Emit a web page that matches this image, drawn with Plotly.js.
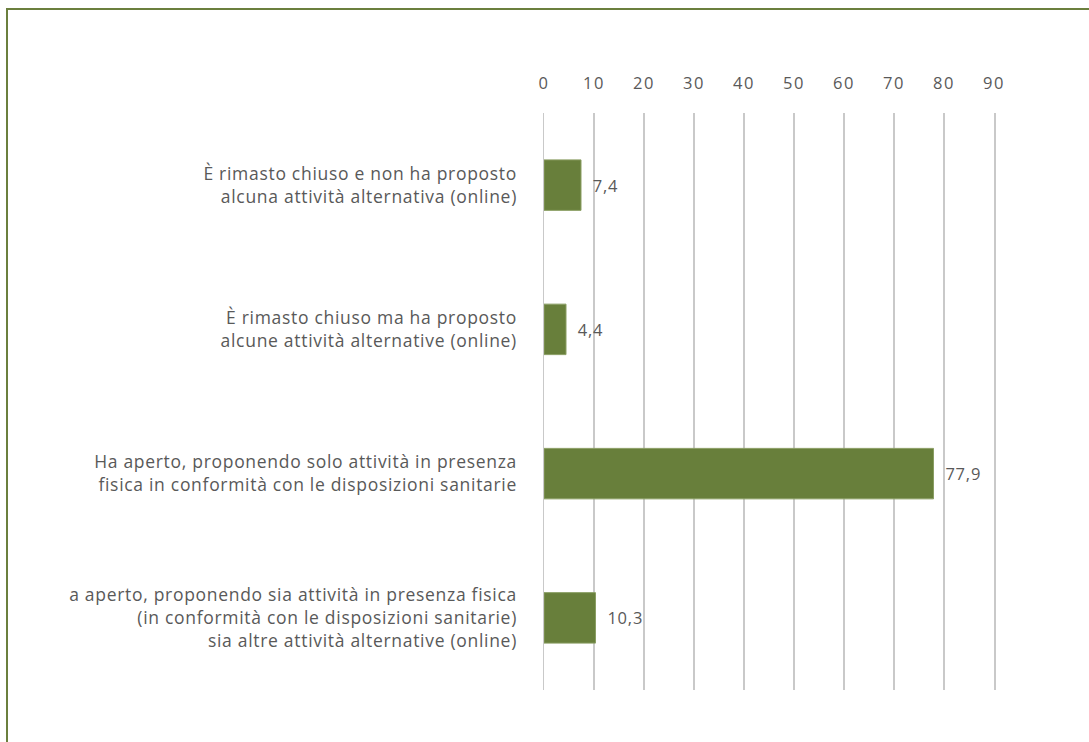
<!DOCTYPE html>
<html>
<head>
<meta charset="utf-8">
<script src="https://cdn.plot.ly/plotly-3.0.1.min.js"></script>
<style>
html,body{margin:0;padding:0;width:1089px;height:742px;overflow:hidden;background:#fff;}
#frame{position:absolute;left:6px;top:8px;width:1200px;height:900px;border:2px solid #6b7f3e;box-sizing:border-box;}
#chart{position:absolute;left:0;top:0;width:1089px;height:742px;}
#chart .ytick text{letter-spacing:0.7px;}
#chart .xtick text{letter-spacing:1.5px;}
#chart .annotation-text{letter-spacing:0.8px;}
</style>
</head>
<body>
<div id="frame"></div>
<div id="chart"></div>
<script>
const categories = [
  "È rimasto chiuso e non ha proposto<br>alcuna attività alternativa (online)",
  "È rimasto chiuso ma ha proposto<br>alcune attività alternative (online)",
  "Ha aperto, proponendo solo attività in presenza<br>fisica in conformità con le disposizioni sanitarie",
  "a aperto, proponendo sia attività in presenza fisica<br>(in conformità con le disposizioni sanitarie)<br>sia altre attività alternative (online)"
];
const values = [7.4, 4.4, 77.9, 10.3];
const valueLabels = ["7,4", "4,4", "77,9", "10,3"];
const tickVals = [0,10,20,30,40,50,60,70,80,90];

const fam = "Open Sans, Noto Sans, sans-serif";
const grey = "#595959";

const trace = {
  type: "bar",
  orientation: "h",
  x: values,
  y: categories,
  marker: {color: "#687f3b", line: {color: "#8a9e63", width: 1}},
  width: 0.35,
  hoverinfo: "none"
};

const annotations = values.map((v, i) => ({
  x: v, y: categories[i], xref: "x", yref: "y",
  text: valueLabels[i], showarrow: false,
  xanchor: "left", yanchor: "middle", xshift: 11,
  font: {family: fam, size: 16.5, color: grey}
}));

const layout = {
  width: 1089, height: 742,
  margin: {l: 544, r: 95, t: 113, b: 52, pad: 0},
  paper_bgcolor: "rgba(0,0,0,0)",
  plot_bgcolor: "rgba(0,0,0,0)",
  showlegend: false,
  font: {family: fam, size: 16, color: grey},
  xaxis: {
    side: "top", range: [0, 90], tickvals: tickVals,
    showgrid: true, gridcolor: "#c9c9c9", gridwidth: 1.5,
    zeroline: false, showline: false,
    ticks: "outside", ticklen: 16, tickcolor: "rgba(0,0,0,0)",
    tickfont: {family: fam, size: 16.5, color: grey},
    fixedrange: true
  },
  yaxis: {
    type: "category", autorange: "reversed",
    showgrid: false, zeroline: false,
    showline: true, mirror: true, linecolor: "#c9c9c9", linewidth: 1.5,
    ticks: "outside", ticklen: 22, tickcolor: "rgba(0,0,0,0)",
    tickfont: {family: fam, size: 17.5, color: grey},
    fixedrange: true
  },
  annotations: annotations
};

Plotly.newPlot("chart", [trace], layout, {displayModeBar: false, staticPlot: true});
</script>
</body>
</html>
